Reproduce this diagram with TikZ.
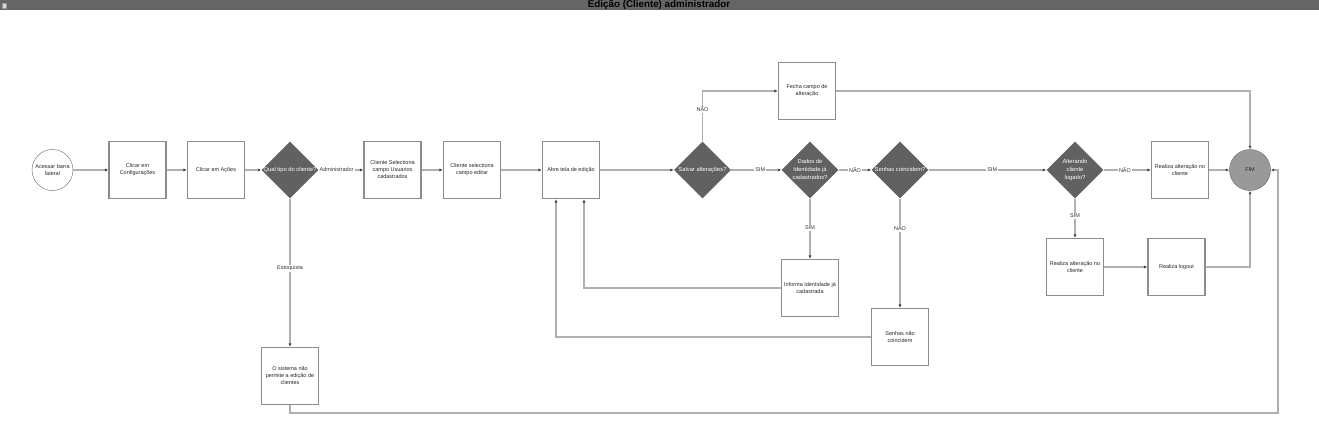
\documentclass[tikz,border=0pt]{standalone}
\usepackage{fontspec}
\setmainfont{Liberation Sans}
\usetikzlibrary{shapes.geometric,positioning,arrows.meta}
\definecolor{barra}{HTML}{666666}
\definecolor{losango}{HTML}{616161}
\definecolor{linha}{HTML}{B0B0B0}
\definecolor{borda}{HTML}{8C8C8C}
\definecolor{fimcor}{HTML}{999999}
\newcommand{\ltxt}[1]{\makebox[0pt]{\begin{tabular}{@{}c@{}}#1\end{tabular}}}

\begin{document}
\begin{tikzpicture}[on grid,node distance=100pt,>={Latex[length=3.5pt,width=3pt,color=black!75]},
  passo/.style={rectangle,draw=borda,line width=1.1pt,minimum size=57pt,inner sep=1pt,align=center,text=black!85,font=\fontsize{5.5}{7}\selectfont},
  decisao/.style={diamond,fill=losango,minimum size=57pt,inner sep=0pt,text=white,font=\fontsize{5.8}{7.5}\selectfont},
  terminal/.style={circle,minimum size=41pt,inner sep=0pt,align=center,text=black!85,font=\fontsize{5.5}{7}\selectfont},
  rotulo/.style={fill=white,inner sep=1pt,text=black!80,font=\fontsize{5.5}{6}\selectfont},
  liga/.style={draw=linha,line width=1.2pt}]
  \useasboundingbox (0,0) rectangle (1319pt,-425pt);
  % barra de titulo
  \fill[barra] (0,0) rectangle (1319pt,-10pt);
  \draw[black!40,fill=white!85!black] (2pt,-3pt) rectangle (6pt,-8pt);
  \node[font=\bfseries\fontsize{9.8}{10}\selectfont,text=black] (titulo) at (659pt,-5pt) {Edição (Cliente) administrador};

  \node[terminal,draw=black!60,fill=white] (inicio) at (52.5pt,-170pt) {Acessar barra\\lateral};
  \node[passo] (config) [right=85pt of inicio] {Clicar em\\Configurações};
  \node[passo] (acoes) [right=78.5pt of config] {Clicar em Ações};
  \node[decisao] (tipo) [right=74pt of acoes] {\ltxt{Qual tipo do cliente?}};
  \node[passo] (selusr) [right=102.5pt of tipo] {Cliente Selectiona\\campo Usuarios\\cadastrados};
  \node[passo] (seledit) [right=79.5pt of selusr] {Cliente selectiona\\campo editar};
  \node[passo] (abre) [right=99pt of seledit] {Abre tela de edição};
  \node[decisao] (salvar) [right=131.5pt of abre] {\ltxt{Salvar alterações?}};
  \node[passo] (fecha) [above right=79pt and 104.5pt of salvar] {Fecha campo de\\alteração};
  \node[decisao] (dados) [right=107.5pt of salvar] {\ltxt{Dados de\\Identidade já\\cadastrados?}};
  \node[decisao] (senhas) [right=90pt of dados] {\ltxt{Senhas coincidem?}};
  \node[decisao] (logado) [right=175pt of senhas] {\ltxt{Alterando\\cliente\\logado?}};
  \node[passo] (realiza1) [right=105pt of logado] {Realiza alteração no\\cliente};
  \node[terminal,draw=black!60,fill=fimcor] (fim) [right=70pt of realiza1] {FIM};
  \node[passo] (informa) [below=118pt of dados] {Informa Identidade já\\cadastrada};
  \node[passo] (senhasnao) [below=167pt of senhas] {Senhas não\\coincidem};
  \node[passo] (realiza2) [below=97pt of logado] {Realiza alteração no\\cliente};
  \node[passo] (logout) [right=101.5pt of realiza2] {Realiza logout};
  \node[passo] (sistema) [below=206pt of tipo] {O sistema não\\permite a edição de\\clientes};
  \coordinate (retorno) at (1278pt,-413pt);

  \path[->,liga]
    (inicio) edge (config)
    (config) edge (acoes)
    (acoes) edge (tipo)
    (tipo) edge node[rotulo,pos=0.4] {Administrador} (selusr)
    (tipo) edge node[rotulo,pos=0.47] {Estoquista} (sistema)
    (selusr) edge (seledit)
    (seledit) edge (abre)
    (abre) edge (salvar)
    (salvar) edge node[rotulo,pos=0.58] {SIM} (dados)
    (dados) edge node[rotulo] {NÃO} (senhas)
    (dados) edge node[rotulo,pos=0.48] {SIM} (informa)
    (senhas) edge node[rotulo,pos=0.54] {SIM} (logado)
    (senhas) edge node[rotulo,pos=0.27] {NÃO} (senhasnao)
    (logado) edge node[rotulo,pos=0.45] {NÃO} (realiza1)
    (logado) edge node[rotulo,pos=0.44] {SIM} (realiza2)
    (realiza1) edge (fim)
    (realiza2) edge (logout)
    ;
  \draw[liga,->] (salvar.north) |- node[rotulo,pos=0.32] {NÃO} (fecha.west);
  \draw[liga,->] (fecha.east) -| (fim.north);
  \draw[liga,->] (logout.east) -| (fim.south);
  \draw[liga,->] (informa.west) -| ([xshift=13pt]abre.south);
  \draw[liga,->] (senhasnao.west) -| ([xshift=-15pt]abre.south);
  \draw[liga,->] (sistema.south) |- (retorno) |- (fim.east);
\end{tikzpicture}
\end{document}
